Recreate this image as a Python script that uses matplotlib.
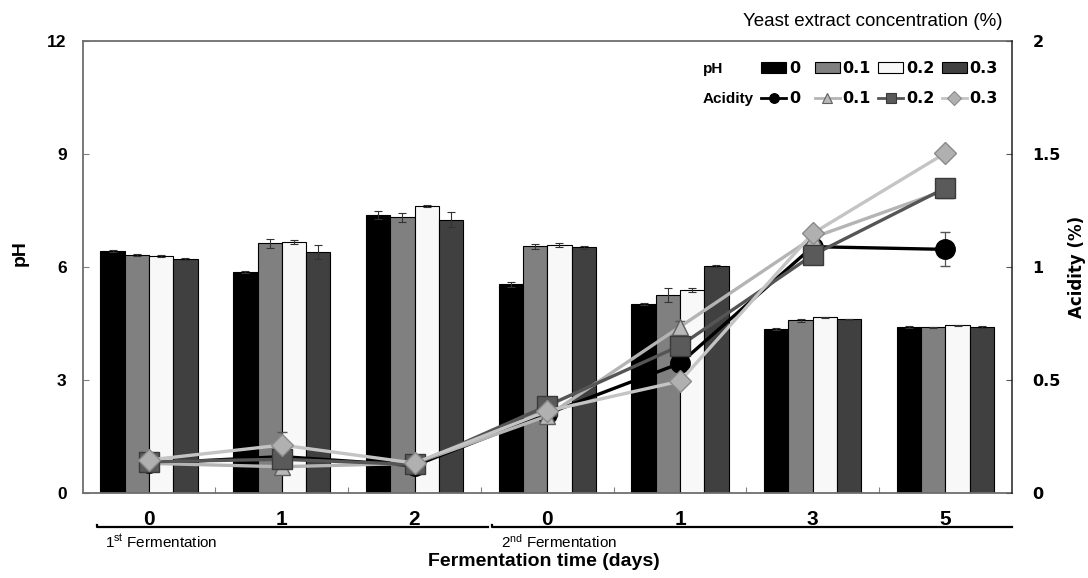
import matplotlib
matplotlib.use("Agg")
import matplotlib.pyplot as plt
import matplotlib.transforms as mtransforms
from matplotlib.patches import Patch
from matplotlib.lines import Line2D
import numpy as np

plt.rcParams['font.family'] = ['Liberation Sans', 'DejaVu Sans']

days = ["0", "1", "2", "0", "1", "3", "5"]
conc = ["0", "0.1", "0.2", "0.3"]

# pH (bars), one list per yeast extract concentration
ph_0 = [6.42, 5.87, 7.38, 5.54, 5.01, 4.35, 4.40]
ph_01 = [6.32, 6.63, 7.32, 6.55, 5.26, 4.58, 4.40]
ph_02 = [6.29, 6.67, 7.62, 6.58, 5.39, 4.66, 4.45]
ph_03 = [6.21, 6.40, 7.25, 6.52, 6.03, 4.61, 4.40]
ph_sd_0 = [0.03, 0.02, 0.10, 0.06, 0.02, 0.02, 0.02]
ph_sd_01 = [0.02, 0.12, 0.12, 0.06, 0.18, 0.03, 0.01]
ph_sd_02 = [0.03, 0.06, 0.03, 0.05, 0.05, 0.02, 0.02]
ph_sd_03 = [0.02, 0.18, 0.20, 0.03, 0.02, 0.02, 0.02]

# titratable acidity (%) (lines)
acid_0 = [0.13, 0.16, 0.12, 0.35, 0.573, 1.09, 1.078]
acid_01 = [0.13, 0.115, 0.13, 0.34, 0.735, 1.13, 1.34]
acid_02 = [0.137, 0.148, 0.125, 0.385, 0.651, 1.053, 1.35]
acid_03 = [0.145, 0.211, 0.131, 0.362, 0.494, 1.149, 1.505]
acid_sd_0 = [0.01, 0.01, 0.01, 0.01, 0.01, 0.01, 0.075]
acid_sd_01 = [0.01, 0.02, 0.01, 0.01, 0.025, 0.01, 0.02]
acid_sd_02 = [0.03, 0.01, 0.01, 0.01, 0.02, 0.01, 0.035]
acid_sd_03 = [0.01, 0.06, 0.01, 0.01, 0.01, 0.02, 0.01]

ph_all = [ph_0, ph_01, ph_02, ph_03]
ph_sd_all = [ph_sd_0, ph_sd_01, ph_sd_02, ph_sd_03]
acid_all = [acid_0, acid_01, acid_02, acid_03]
acid_sd_all = [acid_sd_0, acid_sd_01, acid_sd_02, acid_sd_03]

bar_colors = ['#000000', '#808080', '#f8f8f8', '#404040']
line_colors = ['#000000', '#b4b4b4', '#555555', '#c4c4c4']
mk = ['o', '^', 's', 'D']
mk_face = ['#000000', '#b8b8b8', '#5a5a5a', '#b0b0b0']
mk_edge = ['#000000', '#606060', '#3a3a3a', '#8a8a8a']
mk_size = [14, 12, 14, 11]

fig = plt.figure(figsize=(10.88, 5.78), dpi=100)
ax = fig.add_axes([0.076, 0.1476, 0.854, 0.781])
ax2 = ax.twinx()

x = np.arange(len(days))
w = 0.183
for i in range(4):
    ax.bar(x + (i - 1.5) * w, ph_all[i], w, color=bar_colors[i],
           edgecolor='black', linewidth=0.8, yerr=ph_sd_all[i],
           error_kw=dict(ecolor='#333333', elinewidth=0.8, capsize=3, capthick=0.8))

for i in range(4):
    ax2.errorbar(x, acid_all[i], yerr=acid_sd_all[i], color=line_colors[i],
                 lw=2.4, marker=mk[i], ms=mk_size[i], mfc=mk_face[i],
                 mec=mk_edge[i], mew=1.0, ecolor='#555555', elinewidth=0.9,
                 capsize=3.5, capthick=0.9)

ax.set_xlim(-0.5, len(days) - 0.5)
ax.set_ylim(0, 12)
ax2.set_ylim(0, 2)

ax.set_yticks([0, 3, 6, 9, 12])
ax.set_yticklabels(["0", "3", "6", "9", "12"], fontsize=12.5, fontweight='bold')
ax.tick_params(axis='y', direction='in', length=4.5, pad=11.5, color='#808080')

ax.set_xticks(np.arange(0.5, len(days) - 1, 1.0))
ax.set_xticklabels([])
ax.tick_params(axis='x', which='major', direction='in', length=4.5, color='#808080')
ax.set_xticks(x, minor=True)
ax.set_xticklabels(days, minor=True, fontsize=15, fontweight='bold')
ax.tick_params(axis='x', which='minor', length=0, pad=12.5)

ax2.set_yticks([0, 0.5, 1, 1.5, 2])
ax2.set_yticklabels(["0", "0.5", "1", "1.5", "2"], fontsize=11.5,
                    fontweight='bold', family='DejaVu Sans')
ax2.tick_params(axis='y', direction='in', length=4.5, pad=15, color='#555555')

for s in ['left', 'top', 'bottom']:
    ax.spines[s].set_color('#6e6e6e')
    ax.spines[s].set_linewidth(1.3)
    ax2.spines[s].set_visible(False)
ax.spines['right'].set_visible(False)
ax2.spines['right'].set_color('#222222')
ax2.spines['right'].set_linewidth(1.1)

# axis titles
ax.text(-0.0675, 0.531, "pH", transform=ax.transAxes, rotation=90,
        ha='center', va='center', fontsize=14, fontweight='bold')
ax.text(1.0703, 0.5, "Acidity (%)", transform=ax.transAxes, rotation=90,
        ha='center', va='center', fontsize=12, fontweight='bold', family='DejaVu Sans')
ax.text(0.4968, -0.153, "Fermentation time (days)", transform=ax.transAxes,
        ha='center', va='center', fontsize=14, fontweight='bold')
ax.text(0.9896, 1.0434, "Yeast extract concentration (%)", transform=ax.transAxes,
        ha='right', va='center', fontsize=13.5)

# brackets grouping the two fermentation stages
tr = mtransforms.blended_transform_factory(ax.transData, ax.transAxes)
ax.plot([-0.394, -0.394, 2.554], [-0.071, -0.0767, -0.0767], color='black',
        lw=1.6, transform=tr, clip_on=False)
ax.plot([2.582, 2.582, 6.5], [-0.071, -0.0767, -0.0767], color='black',
        lw=1.6, transform=tr, clip_on=False)
ax.text(-0.332, -0.1086, r"$\mathregular{1^{st}}$ Fermentation", transform=tr,
        ha='left', va='center', fontsize=11)
ax.text(2.652, -0.1086, r"$\mathregular{2^{nd}}$ Fermentation", transform=tr,
        ha='left', va='center', fontsize=11)

# legend: pH bars on the first row, acidity lines on the second
blank = Line2D([], [], linestyle='none')
bar_h = [Patch(facecolor=bar_colors[i], edgecolor='black', linewidth=0.8) for i in range(4)]
line_h = [Line2D([], [], color=line_colors[i], lw=2.0, marker=mk[i], ms=7,
                 mfc=mk_face[i], mec=mk_edge[i], mew=0.8) for i in range(4)]

leg_kw = dict(frameon=False, borderpad=0, borderaxespad=0, handlelength=1.56,
              handletextpad=0.19, columnspacing=0.45, labelspacing=0.95,
              prop=dict(family='DejaVu Sans', weight='bold', size=11.5))
leg_a = ax2.legend([blank, blank, bar_h[0], line_h[0]], ["pH", "Acidity", conc[0], conc[0]],
                   ncol=2, loc='center left', bbox_to_anchor=(675 / 1088, 1 - 83.8 / 578),
                   bbox_transform=fig.transFigure, **leg_kw)
for t in leg_a.get_texts()[:2]:
    t.set_fontfamily(['Liberation Sans', 'DejaVu Sans'])
    t.set_fontsize(11)
ax2.add_artist(leg_a)
leg_b = ax2.legend([bar_h[1], line_h[1], bar_h[2], line_h[2], bar_h[3], line_h[3]],
                   [conc[1], conc[1], conc[2], conc[2], conc[3], conc[3]],
                   ncol=3, loc='center right', bbox_to_anchor=(998 / 1088, 1 - 83.8 / 578),
                   bbox_transform=fig.transFigure, **leg_kw)

fig.savefig("out.png", dpi=100)
